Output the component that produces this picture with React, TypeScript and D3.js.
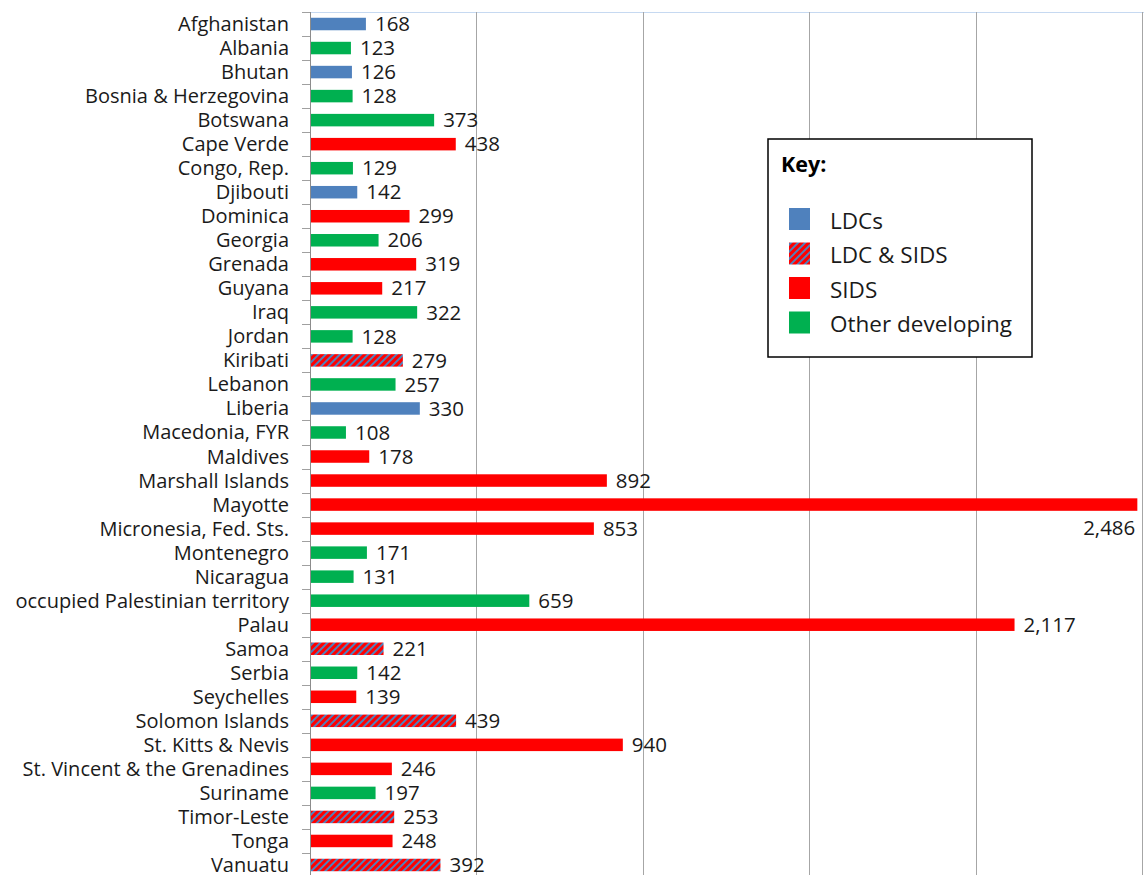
import React, { useEffect, useRef } from "react";
import * as d3 from "d3";

const countries = [
  "Afghanistan", "Albania", "Bhutan", "Bosnia & Herzegovina", "Botswana", "Cape Verde",
  "Congo, Rep.", "Djibouti", "Dominica", "Georgia", "Grenada", "Guyana", "Iraq", "Jordan",
  "Kiribati", "Lebanon", "Liberia", "Macedonia, FYR", "Maldives", "Marshall Islands",
  "Mayotte", "Micronesia, Fed. Sts.", "Montenegro", "Nicaragua", "occupied Palestinian territory",
  "Palau", "Samoa", "Serbia", "Seychelles", "Solomon Islands", "St. Kitts & Nevis",
  "St. Vincent & the Grenadines", "Suriname", "Timor-Leste", "Tonga", "Vanuatu",
];
const values = [
  168, 123, 126, 128, 373, 438, 129, 142, 299, 206, 319, 217, 322, 128, 279, 257, 330, 108,
  178, 892, 2486, 853, 171, 131, 659, 2117, 221, 142, 139, 439, 940, 246, 197, 253, 248, 392,
];
const groups = [
  "LDC", "Other", "LDC", "Other", "Other", "SIDS", "Other", "LDC", "SIDS", "Other", "SIDS",
  "SIDS", "Other", "Other", "LDCSIDS", "Other", "LDC", "Other", "SIDS", "SIDS", "SIDS", "SIDS",
  "Other", "Other", "Other", "SIDS", "LDCSIDS", "Other", "SIDS", "LDCSIDS", "SIDS", "SIDS",
  "Other", "LDCSIDS", "SIDS", "LDCSIDS",
];
const legendKeys = ["LDC", "LDCSIDS", "SIDS", "Other"];
const legendLabels = ["LDCs", "LDC & SIDS", "SIDS", "Other developing"];
const gridTicks = [0, 500, 1000, 1500, 2000, 2500];

const FONT = "'Open Sans', 'Noto Sans', sans-serif";

export default function App() {
  const ref = useRef<SVGSVGElement>(null);

  useEffect(() => {
    const svg = d3.select(ref.current);
    svg.selectAll("*").remove();

    const fill = (g: string) =>
      g === "LDC" ? "#4F81BD" : g === "SIDS" ? "#FF0000" : g === "Other" ? "#00B050" : "url(#hatch)";

    const defs = svg.append("defs");
    const pat = defs
      .append("pattern")
      .attr("id", "hatch")
      .attr("patternUnits", "userSpaceOnUse")
      .attr("width", 5)
      .attr("height", 5)
      .attr("patternTransform", "rotate(45)");
    pat.append("rect").attr("width", 5).attr("height", 5).attr("fill", "#FF0000");
    pat.append("rect").attr("width", 2).attr("height", 5).attr("fill", "#4F81BD");

    const x = d3.scaleLinear().domain([0, 2500]).range([310, 1142]);
    const y = d3.scaleBand().domain(countries).range([12, 877]).paddingInner(0.48).paddingOuter(0.24);
    const yb = d3.scaleBand().domain(countries).range([12, 877]);

    // top border
    svg.append("line").attr("x1", 310).attr("x2", 1144).attr("y1", 12.5).attr("y2", 12.5)
      .attr("stroke", "#C6D9F1").attr("stroke-width", 1);

    // gridlines
    svg.selectAll(".grid").data(gridTicks.slice(1)).enter().append("line")
      .attr("x1", (d) => Math.round(x(d)) + 0.5).attr("x2", (d) => Math.round(x(d)) + 0.5)
      .attr("y1", 12).attr("y2", 877)
      .attr("stroke", "#A6A6A6").attr("stroke-width", 1);

    // bars
    svg.selectAll(".bar").data(countries).enter().append("rect")
      .attr("x", x(0))
      .attr("y", (d) => y(d)!)
      .attr("height", y.bandwidth())
      .attr("width", (_d, i) => x(values[i]) - x(0))
      .attr("fill", (_d, i) => fill(groups[i]));

    // axis line
    svg.append("line").attr("x1", 310.5).attr("x2", 310.5).attr("y1", 12).attr("y2", 877)
      .attr("stroke", "#8C8C8C").attr("stroke-width", 1);

    // ticks
    const tickPos = countries.map((c) => yb(c)!).concat([877]);
    svg.selectAll(".tick").data(tickPos).enter().append("line")
      .attr("x1", 302).attr("x2", 310)
      .attr("y1", (d) => Math.round(d) + 0.5).attr("y2", (d) => Math.round(d) + 0.5)
      .attr("stroke", "#A0A0A0");

    // category labels
    svg.selectAll(".cat").data(countries).enter().append("text")
      .attr("x", 289)
      .attr("y", (d) => yb(d)! + yb.bandwidth() / 2)
      .attr("dy", "0.35em")
      .attr("text-anchor", "end")
      .attr("font-family", FONT)
      .attr("font-size", 20)
      .attr("fill", "#1a1a1a")
      .text((d) => d);

    // value labels
    const fmt = d3.format(",");
    svg.selectAll(".val").data(countries).enter().append("text")
      .attr("x", (_d, i) => (values[i] > 2400 ? x(values[i]) - 2 : x(values[i]) + 9))
      .attr("y", (d, i) => yb(d)! + yb.bandwidth() / 2 + (values[i] > 2400 ? 23 : 0))
      .attr("dy", "0.35em")
      .attr("text-anchor", (_d, i) => (values[i] > 2400 ? "end" : "start"))
      .attr("font-family", FONT)
      .attr("font-size", 20.5)
      .attr("fill", "#1a1a1a")
      .text((_d, i) => fmt(values[i]));

    // legend
    const lg = svg.append("g");
    lg.append("rect").attr("x", 768).attr("y", 139).attr("width", 264).attr("height", 218)
      .attr("fill", "#fff").attr("stroke", "#000").attr("stroke-width", 1.5);
    lg.append("text").attr("x", 781).attr("y", 172).attr("font-family", FONT)
      .attr("font-weight", "bold").attr("font-size", 21.5).attr("fill", "#000").text("Key:");
    legendKeys.forEach((k, i) => {
      const cy = 219 + i * 34.5;
      lg.append("rect").attr("x", 789).attr("y", cy - 11).attr("width", 21).attr("height", 22)
        .attr("fill", fill(k));
      lg.append("text").attr("x", 830).attr("y", cy + 2).attr("dy", "0.35em")
        .attr("font-family", FONT).attr("font-size", 22.5).attr("fill", "#1a1a1a")
        .text(legendLabels[i]);
    });
  }, []);

  return (
    <svg
      ref={ref}
      width={1144}
      height={875}
      style={{ position: "absolute", left: 0, top: 0, background: "#fff" }}
    />
  );
}
